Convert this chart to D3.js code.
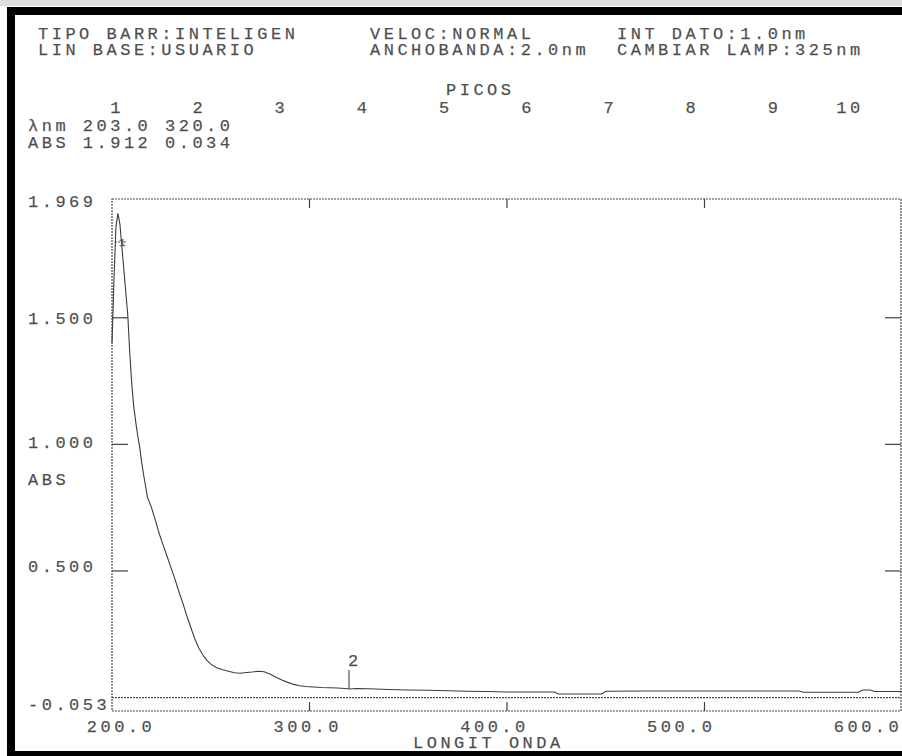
<!DOCTYPE html>
<html>
<head>
<meta charset="utf-8">
<script src="https://cdn.jsdelivr.net/npm/d3@7"></script>
<style>
  html, body { margin: 0; padding: 0; background: #fff; }
  svg text { font-family: "Liberation Mono", "DejaVu Sans Mono", monospace; font-size: 17px; letter-spacing: 3.5px; fill: #4a4a4a; stroke: #6a6a6a; stroke-width: 0.25px; }
</style>
</head>
<body>
<svg id="chart" width="902" height="756"></svg>
<script>
// ---------------- DATA ----------------
const headerLeft = ["TIPO BARR:INTELIGEN", "LIN BASE:USUARIO"];
const headerMid = ["VELOC:NORMAL", "ANCHOBANDA:2.0nm"];
const headerRight = ["INT DATO:1.0nm", "CAMBIAR LAMP:325nm"];
const peaksTitle = "PICOS";
const peakSlots = [1, 2, 3, 4, 5, 6, 7, 8, 9, 10];
const peakWavelengths = [203.0, 320.0];
const peakAbs = [1.912, 0.034];
const peakWlLabels = ["203.0", "320.0"];
const peakAbsLabels = ["1.912", "0.034"];

const wavelength = [200, 201, 202, 203, 204, 205, 206, 207, 208, 209, 210, 211, 212, 213, 214, 215, 216, 218,
  220, 222, 224, 226, 228, 230, 232, 234, 236, 238, 240, 242, 244, 246, 248, 250, 253, 256, 259, 262, 265,
  268, 271, 274, 277, 280, 283, 286, 289, 292, 295, 298, 302, 306, 310, 314, 318, 320, 324, 330, 340, 350,
  360, 370, 380, 390, 400, 424, 426, 448, 450, 470, 500, 520, 548, 550, 578, 580, 584, 586, 600];
const absorbance = [1.40, 1.65, 1.86, 1.912, 1.87, 1.78, 1.69, 1.60, 1.51, 1.36, 1.24, 1.15, 1.09, 1.035, 0.99, 0.93, 0.88, 0.79,
  0.75, 0.70, 0.645, 0.60, 0.555, 0.51, 0.465, 0.415, 0.37, 0.32, 0.275, 0.23, 0.195, 0.168, 0.148, 0.132, 0.118, 0.110, 0.104, 0.098, 0.096,
  0.099, 0.101, 0.104, 0.102, 0.093, 0.080, 0.069, 0.060, 0.052, 0.047, 0.044, 0.042, 0.040, 0.039, 0.038, 0.036, 0.034, 0.036, 0.035, 0.032, 0.030,
  0.029, 0.027, 0.025, 0.024, 0.022, 0.022, 0.014, 0.014, 0.025, 0.026, 0.026, 0.026, 0.026, 0.021, 0.021, 0.030, 0.030, 0.024, 0.024];

const yTickValues = [-0.053, 0.5, 1.0, 1.5, 1.969];
const yTickLabels = ["-0.053", "0.500", "1.000", "1.500", "1.969"];
const yInnerTicks = [0.5, 1.0, 1.5];
const xTickValues = [200, 300, 400, 500, 600];
const xTickLabels = ["200.0", "300.0", "400.0", "500.0", "600.0"];
const xInnerTicks = [300, 400, 500];
const yTitle = "ABS";
const xTitle = "LONGIT ONDA";
const lambdaLabel = "λnm";
const absLabel = "ABS";

// ---------------- LAYOUT ----------------
const W = 902, H = 756;
const pL = 112, pR = 901, pT = 199, pB = 711;
const charW = 13.7, gridX0 = 28;
const svg = d3.select("#chart");

const x = d3.scaleLinear().domain([200, 600]).range([pL, 902]);
const y = d3.scaleLinear().domain([-0.053, 1.969]).range([pB, pT]);
// printer's text grid positions for tick labels
const xLab = d3.scaleLinear().domain([200, 600]).range([119, 866]);
const yLab = d3.scaleLinear().domain([-0.053, 1.969]).range([710, 207]);

// page frame
svg.append("rect").attr("x", 0).attr("y", 0).attr("width", W).attr("height", H).attr("fill", "#fff");
svg.append("rect").attr("x", 0).attr("y", 0).attr("width", W).attr("height", 6).attr("fill", "#dedede");
svg.append("rect").attr("x", 7).attr("y", 7).attr("width", W - 7).attr("height", 8).attr("fill", "#000");
svg.append("rect").attr("x", 7).attr("y", 7).attr("width", 8).attr("height", H - 7).attr("fill", "#000");
svg.append("rect").attr("x", 7).attr("y", 751).attr("width", W - 7).attr("height", 5).attr("fill", "#000");

function txt(px, py, s, anchor) {
  return svg.append("text").attr("x", px).attr("y", py).attr("text-anchor", anchor || "start").text(s);
}

// header
headerLeft.forEach((s, i) => txt(38, 39 + i * 16, s));
headerMid.forEach((s, i) => txt(370, 39 + i * 16, s));
headerRight.forEach((s, i) => txt(617, 39 + i * 16, s));
txt(446, 95, peaksTitle);
peakSlots.forEach((p, i) => {
  const s = String(p);
  txt(gridX0 + (6 * (i + 1) + 1 - s.length) * charW, 113, s);
});
txt(gridX0, 131, [lambdaLabel].concat(peakWlLabels).join(" "));
txt(gridX0, 148, [absLabel].concat(peakAbsLabels).join(" "));

// plot frame (dotted printer lines)
const frame = svg.append("g").attr("fill", "none").attr("stroke", "#4a4a4a").attr("stroke-width", 1.2).attr("stroke-dasharray", "2,1");
frame.append("rect").attr("x", pL).attr("y", pT).attr("width", pR - pL).attr("height", pB - pT);
frame.append("line").attr("x1", pL).attr("x2", pR).attr("y1", y(0)).attr("y2", y(0));

// ticks
const tk = svg.append("g").attr("stroke", "#404040").attr("stroke-width", 1.2);
yInnerTicks.forEach(v => {
  tk.append("line").attr("x1", pL).attr("x2", pL + 16).attr("y1", y(v)).attr("y2", y(v));
  tk.append("line").attr("x1", pR - 16).attr("x2", pR).attr("y1", y(v)).attr("y2", y(v));
});
xInnerTicks.forEach(v => {
  tk.append("line").attr("x1", x(v)).attr("x2", x(v)).attr("y1", pT).attr("y2", pT + 9);
  tk.append("line").attr("x1", x(v)).attr("x2", x(v)).attr("y1", pB).attr("y2", pB - 9);
});

// tick labels
yTickValues.forEach((v, i) => txt(gridX0, yLab(v), yTickLabels[i]));
xTickValues.forEach((v, i) => txt(xLab(v) + 2, 732, xTickLabels[i], "middle"));
txt(gridX0, 485, yTitle);
txt(413, 748, xTitle);

// spectrum
const line = d3.line().x((d, i) => x(wavelength[i])).y(d => y(d));
svg.append("path").datum(absorbance).attr("d", line)
  .attr("fill", "none").attr("stroke", "#3c3c3c").attr("stroke-width", 1.1);

// peak markers
svg.append("line").attr("x1", x(peakWavelengths[1])).attr("x2", x(peakWavelengths[1]))
  .attr("y1", y(peakAbs[1])).attr("y2", y(peakAbs[1]) - 19)
  .attr("stroke", "#404040").attr("stroke-width", 1.1);
txt(x(peakWavelengths[1]) - 1, y(peakAbs[1]) - 23, "2");
svg.append("line").attr("x1", x(peakWavelengths[0]) - 3).attr("x2", x(peakWavelengths[0]) + 8)
  .attr("y1", 242).attr("y2", 242).attr("stroke", "#555").attr("stroke-width", 1).attr("stroke-dasharray", "2,1");
svg.append("text").attr("x", x(peakWavelengths[0]) + 1).attr("y", 246)
  .style("font-size", "11px").style("letter-spacing", "0px").text("1");
</script>
</body>
</html>
